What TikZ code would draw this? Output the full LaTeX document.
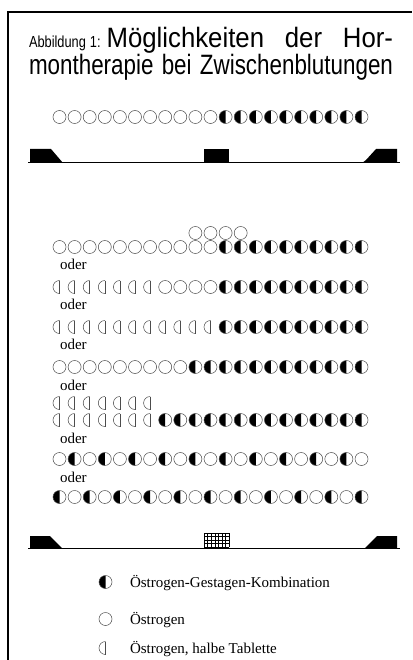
\documentclass[tikz,border=0pt]{standalone}
\usepackage{graphicx}
\usepackage{fontspec}
\setmainfont{Liberation Serif}
\newfontfamily\titlefont[FakeStretch=0.8]{Liberation Sans}
\newcommand{\wideword}[1]{\scalebox{1.15}[1]{#1}}
\usetikzlibrary{positioning}

\begin{document}
\begin{tikzpicture}[x=1pt,y=-1pt,
  every node/.style={inner sep=0pt,outer sep=0pt},
  rim/.style={line width=0.5pt,draw=black!70},
  bar/.style={line width=1pt},
  oder/.style={font=\fontsize{15}{15}\selectfont,anchor=base west},
  legtext/.style={font=\fontsize{15}{15}\selectfont,anchor=base west},
  titleline/.style={anchor=base west,font=\titlefont},
  estro/.pic={\draw[rim] (0,0) circle[radius=6.5];},
  kombi/.pic={\begin{scope}\clip (-7,-7) rectangle (0,7);
                \fill[black] (0,0) circle[radius=6.5];\end{scope}
              \draw[rim] (0,0) circle[radius=6.5];},
  halftab/.pic={\begin{scope}\clip (-7,-7) rectangle (0,7);
                \draw[rim] (0,0) circle[radius=6.5];\end{scope}
              \draw[rim] (0,-6.5) -- (0,6.5);},
]
\useasboundingbox[fill=white] (0,0) rectangle (412,660);
\draw[line width=1.3pt] (8,660) -- (8,12) -- (412,12);

\node[titleline] (title1) at (29,48) {\makebox[364pt][s]{\fontsize{16}{16}\selectfont Abbildung\hspace{4pt}1:\hspace{6pt}\fontsize{28}{28}\selectfont \wideword{Möglichkeiten} \wideword{der} \wideword{Hor-}}};
\node[titleline] (title2) at (29,75) {\makebox[364pt][s]{\fontsize{28}{28}\selectfont montherapie bei Zwischenblutungen}};

\foreach \i in {0,...,10} \pic at (59.5+15.1*\i,117) {estro};
\foreach \i in {11,...,20} \pic at (59.5+15.1*\i,117) {kombi};

\draw[bar] (28,163) -- (400,163);
\fill (30,149) -- (51,149) -- (63,163) -- (30,163) -- cycle;
\fill (204,149) rectangle (229,163);
\fill (376,149) -- (397,149) -- (397,163) -- (362,163) -- (366,160) -- cycle;

\foreach \i in {9,...,12} \pic at (59.5+15.1*\i,233) {estro};
\foreach \i in {0,...,10} \pic at (59.5+15.1*\i,247) {estro};
\foreach \i in {11,...,20} \pic at (59.5+15.1*\i,247) {kombi};
\node[oder] (oder1) at (60,269) {oder};

\foreach \i in {0,...,6} \pic at (59.5+15.1*\i,287) {halftab};
\foreach \i in {7,...,10} \pic at (59.5+15.1*\i,287) {estro};
\foreach \i in {11,...,20} \pic at (59.5+15.1*\i,287) {kombi};
\node[oder] (oder2) at (60,309) {oder};

\foreach \i in {0,...,10} \pic at (59.5+15.1*\i,327) {halftab};
\foreach \i in {11,...,20} \pic at (59.5+15.1*\i,327) {kombi};
\node[oder] (oder3) at (60,349) {oder};

\foreach \i in {0,...,8} \pic at (59.5+15.1*\i,367) {estro};
\foreach \i in {9,...,20} \pic at (59.5+15.1*\i,367) {kombi};
\node[oder] (oder4) at (60,390) {oder};

\foreach \i in {0,...,6} \pic at (59.5+15.1*\i,403) {halftab};
\foreach \i in {0,...,6} \pic at (59.5+15.1*\i,420) {halftab};
\foreach \i in {7,...,20} \pic at (59.5+15.1*\i,420) {kombi};
\node[oder] (oder5) at (60,443) {oder};

\foreach \i in {0,2,...,20} \pic at (59.5+15.1*\i,459) {estro};
\foreach \i in {1,3,...,19} \pic at (59.5+15.1*\i,459) {kombi};
\node[oder] (oder6) at (60,482) {oder};

\foreach \i in {0,2,...,20} \pic at (59.5+15.1*\i,497) {kombi};
\foreach \i in {1,3,...,19} \pic at (59.5+15.1*\i,497) {estro};

\draw[bar] (28,548) -- (400,548);
\fill (30,536) -- (50,536) -- (62,548) -- (30,548) -- cycle;
\fill (377,536) -- (397,536) -- (397,548) -- (365,548) -- cycle;
\foreach \k in {0,...,7} \draw[line width=0.4pt] (204+3.57*\k,533) -- (204+3.57*\k,547);
\foreach \k in {0,...,4} \draw[line width=0.4pt] (204,533+3.5*\k) -- (229,533+3.5*\k);

\pic at (105.5,582) {kombi};
\node[legtext] (legkombi) at (130,587) {Östrogen-Gestagen-Kombination};
\pic at (105.5,619) {estro};
\node[legtext] (legestro) at (130,624) {Östrogen};
\pic at (105.5,648) {halftab};
\node[legtext] (leghalb) at (130,653) {Östrogen, halbe Tablette};
\end{tikzpicture}
\end{document}
